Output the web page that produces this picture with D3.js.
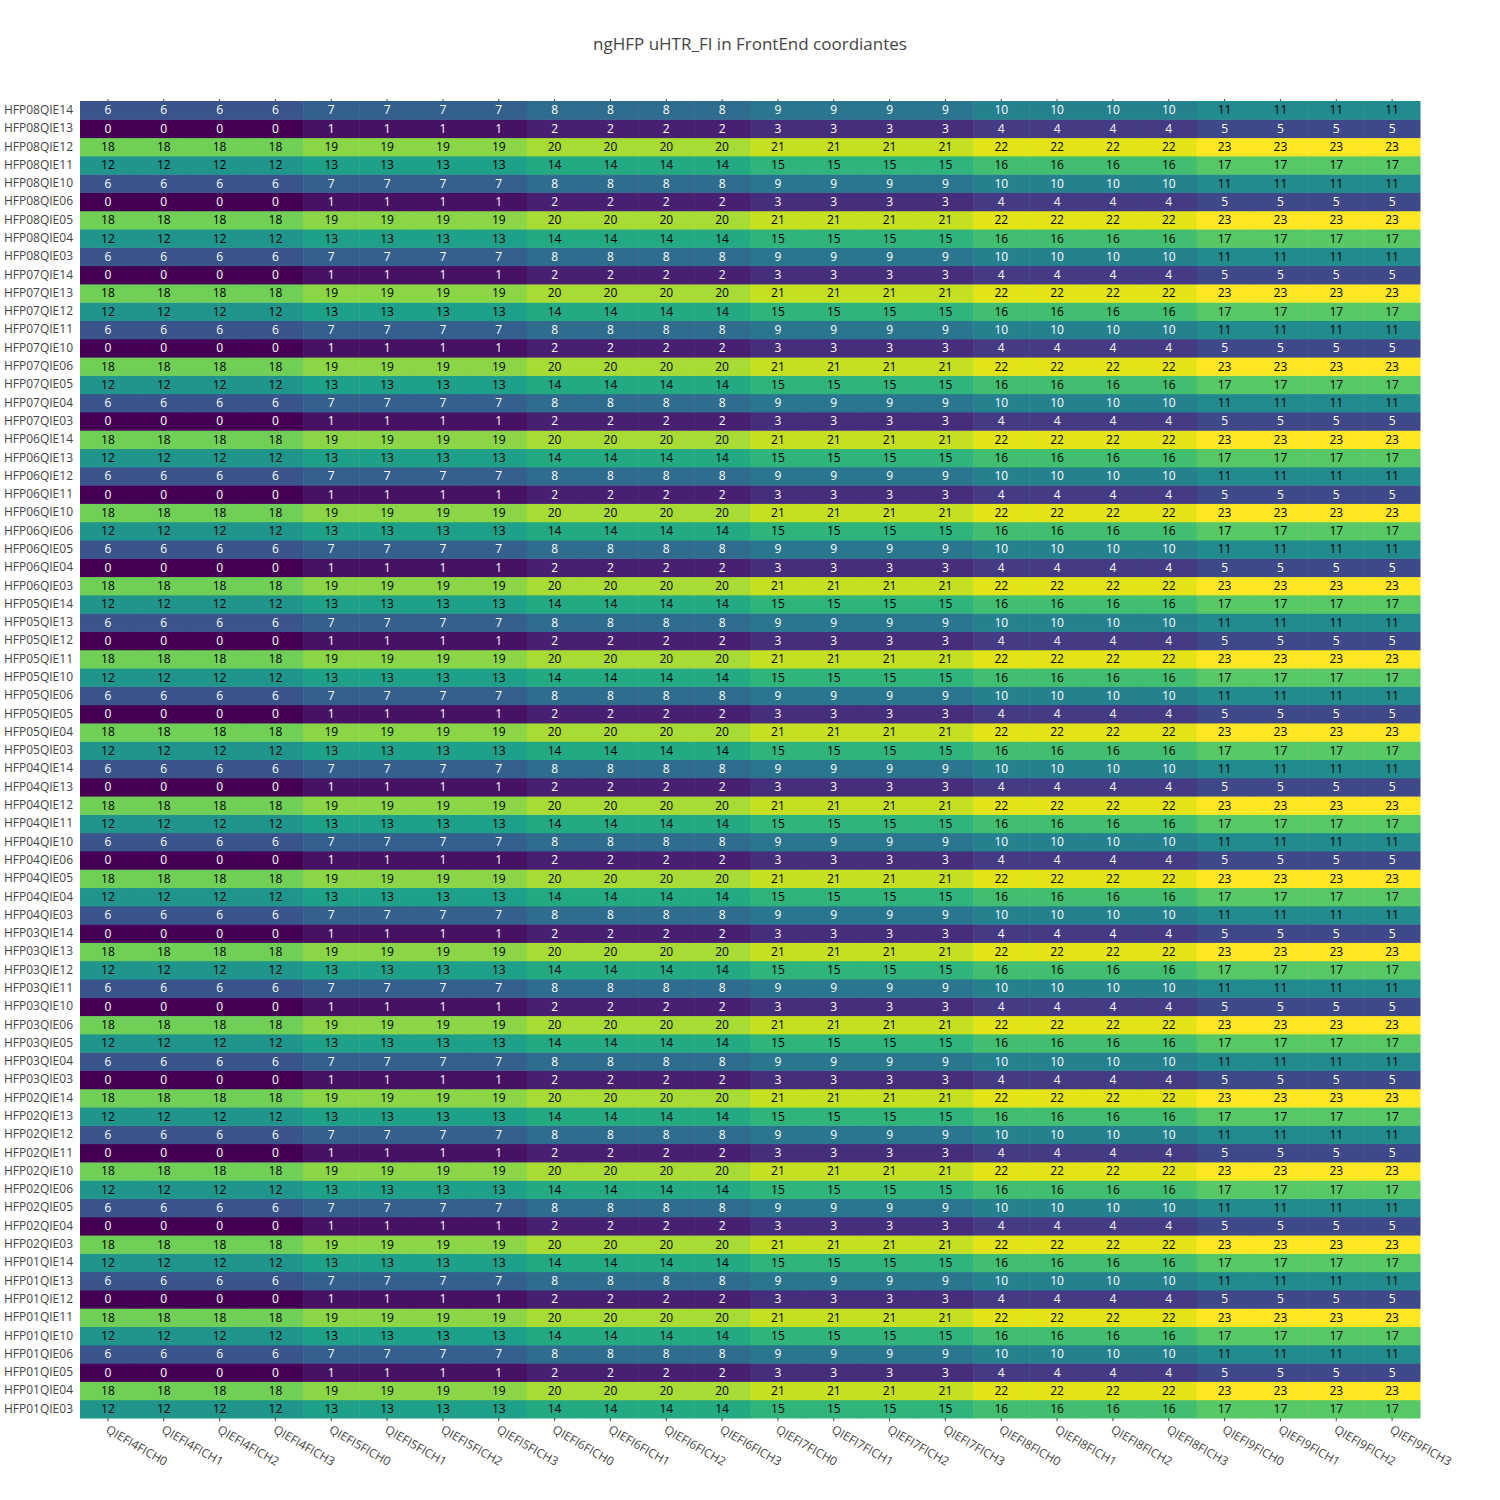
<!DOCTYPE html>
<html>
<head>
<meta charset="utf-8">
<script src="https://cdn.jsdelivr.net/npm/d3@7"></script>
<style>
  body { margin: 0; background: #fff; }
  text { font-family: "Open Sans", sans-serif; }
</style>
</head>
<body>
<div id="chart"></div>
<script>
// column labels (left to right)
var xLabels = ['QIEFI4FICH0', 'QIEFI4FICH1', 'QIEFI4FICH2', 'QIEFI4FICH3',
  'QIEFI5FICH0', 'QIEFI5FICH1', 'QIEFI5FICH2', 'QIEFI5FICH3',
  'QIEFI6FICH0', 'QIEFI6FICH1', 'QIEFI6FICH2', 'QIEFI6FICH3',
  'QIEFI7FICH0', 'QIEFI7FICH1', 'QIEFI7FICH2', 'QIEFI7FICH3',
  'QIEFI8FICH0', 'QIEFI8FICH1', 'QIEFI8FICH2', 'QIEFI8FICH3',
  'QIEFI9FICH0', 'QIEFI9FICH1', 'QIEFI9FICH2', 'QIEFI9FICH3'];

// row labels (bottom to top)
var yLabels = [
  'HFP01QIE03', 'HFP01QIE04', 'HFP01QIE05', 'HFP01QIE06', 'HFP01QIE10', 'HFP01QIE11', 'HFP01QIE12', 'HFP01QIE13', 'HFP01QIE14',
  'HFP02QIE03', 'HFP02QIE04', 'HFP02QIE05', 'HFP02QIE06', 'HFP02QIE10', 'HFP02QIE11', 'HFP02QIE12', 'HFP02QIE13', 'HFP02QIE14',
  'HFP03QIE03', 'HFP03QIE04', 'HFP03QIE05', 'HFP03QIE06', 'HFP03QIE10', 'HFP03QIE11', 'HFP03QIE12', 'HFP03QIE13', 'HFP03QIE14',
  'HFP04QIE03', 'HFP04QIE04', 'HFP04QIE05', 'HFP04QIE06', 'HFP04QIE10', 'HFP04QIE11', 'HFP04QIE12', 'HFP04QIE13', 'HFP04QIE14',
  'HFP05QIE03', 'HFP05QIE04', 'HFP05QIE05', 'HFP05QIE06', 'HFP05QIE10', 'HFP05QIE11', 'HFP05QIE12', 'HFP05QIE13', 'HFP05QIE14',
  'HFP06QIE03', 'HFP06QIE04', 'HFP06QIE05', 'HFP06QIE06', 'HFP06QIE10', 'HFP06QIE11', 'HFP06QIE12', 'HFP06QIE13', 'HFP06QIE14',
  'HFP07QIE03', 'HFP07QIE04', 'HFP07QIE05', 'HFP07QIE06', 'HFP07QIE10', 'HFP07QIE11', 'HFP07QIE12', 'HFP07QIE13', 'HFP07QIE14',
  'HFP08QIE03', 'HFP08QIE04', 'HFP08QIE05', 'HFP08QIE06', 'HFP08QIE10', 'HFP08QIE11', 'HFP08QIE12', 'HFP08QIE13', 'HFP08QIE14'];

// cell values, one row per yLabel (bottom to top)
var zValues = [
  [12,12,12,12,13,13,13,13,14,14,14,14,15,15,15,15,16,16,16,16,17,17,17,17],
  [18,18,18,18,19,19,19,19,20,20,20,20,21,21,21,21,22,22,22,22,23,23,23,23],
  [0,0,0,0,1,1,1,1,2,2,2,2,3,3,3,3,4,4,4,4,5,5,5,5],
  [6,6,6,6,7,7,7,7,8,8,8,8,9,9,9,9,10,10,10,10,11,11,11,11],
  [12,12,12,12,13,13,13,13,14,14,14,14,15,15,15,15,16,16,16,16,17,17,17,17],
  [18,18,18,18,19,19,19,19,20,20,20,20,21,21,21,21,22,22,22,22,23,23,23,23],
  [0,0,0,0,1,1,1,1,2,2,2,2,3,3,3,3,4,4,4,4,5,5,5,5],
  [6,6,6,6,7,7,7,7,8,8,8,8,9,9,9,9,10,10,10,10,11,11,11,11],
  [12,12,12,12,13,13,13,13,14,14,14,14,15,15,15,15,16,16,16,16,17,17,17,17],
  [18,18,18,18,19,19,19,19,20,20,20,20,21,21,21,21,22,22,22,22,23,23,23,23],
  [0,0,0,0,1,1,1,1,2,2,2,2,3,3,3,3,4,4,4,4,5,5,5,5],
  [6,6,6,6,7,7,7,7,8,8,8,8,9,9,9,9,10,10,10,10,11,11,11,11],
  [12,12,12,12,13,13,13,13,14,14,14,14,15,15,15,15,16,16,16,16,17,17,17,17],
  [18,18,18,18,19,19,19,19,20,20,20,20,21,21,21,21,22,22,22,22,23,23,23,23],
  [0,0,0,0,1,1,1,1,2,2,2,2,3,3,3,3,4,4,4,4,5,5,5,5],
  [6,6,6,6,7,7,7,7,8,8,8,8,9,9,9,9,10,10,10,10,11,11,11,11],
  [12,12,12,12,13,13,13,13,14,14,14,14,15,15,15,15,16,16,16,16,17,17,17,17],
  [18,18,18,18,19,19,19,19,20,20,20,20,21,21,21,21,22,22,22,22,23,23,23,23],
  [0,0,0,0,1,1,1,1,2,2,2,2,3,3,3,3,4,4,4,4,5,5,5,5],
  [6,6,6,6,7,7,7,7,8,8,8,8,9,9,9,9,10,10,10,10,11,11,11,11],
  [12,12,12,12,13,13,13,13,14,14,14,14,15,15,15,15,16,16,16,16,17,17,17,17],
  [18,18,18,18,19,19,19,19,20,20,20,20,21,21,21,21,22,22,22,22,23,23,23,23],
  [0,0,0,0,1,1,1,1,2,2,2,2,3,3,3,3,4,4,4,4,5,5,5,5],
  [6,6,6,6,7,7,7,7,8,8,8,8,9,9,9,9,10,10,10,10,11,11,11,11],
  [12,12,12,12,13,13,13,13,14,14,14,14,15,15,15,15,16,16,16,16,17,17,17,17],
  [18,18,18,18,19,19,19,19,20,20,20,20,21,21,21,21,22,22,22,22,23,23,23,23],
  [0,0,0,0,1,1,1,1,2,2,2,2,3,3,3,3,4,4,4,4,5,5,5,5],
  [6,6,6,6,7,7,7,7,8,8,8,8,9,9,9,9,10,10,10,10,11,11,11,11],
  [12,12,12,12,13,13,13,13,14,14,14,14,15,15,15,15,16,16,16,16,17,17,17,17],
  [18,18,18,18,19,19,19,19,20,20,20,20,21,21,21,21,22,22,22,22,23,23,23,23],
  [0,0,0,0,1,1,1,1,2,2,2,2,3,3,3,3,4,4,4,4,5,5,5,5],
  [6,6,6,6,7,7,7,7,8,8,8,8,9,9,9,9,10,10,10,10,11,11,11,11],
  [12,12,12,12,13,13,13,13,14,14,14,14,15,15,15,15,16,16,16,16,17,17,17,17],
  [18,18,18,18,19,19,19,19,20,20,20,20,21,21,21,21,22,22,22,22,23,23,23,23],
  [0,0,0,0,1,1,1,1,2,2,2,2,3,3,3,3,4,4,4,4,5,5,5,5],
  [6,6,6,6,7,7,7,7,8,8,8,8,9,9,9,9,10,10,10,10,11,11,11,11],
  [12,12,12,12,13,13,13,13,14,14,14,14,15,15,15,15,16,16,16,16,17,17,17,17],
  [18,18,18,18,19,19,19,19,20,20,20,20,21,21,21,21,22,22,22,22,23,23,23,23],
  [0,0,0,0,1,1,1,1,2,2,2,2,3,3,3,3,4,4,4,4,5,5,5,5],
  [6,6,6,6,7,7,7,7,8,8,8,8,9,9,9,9,10,10,10,10,11,11,11,11],
  [12,12,12,12,13,13,13,13,14,14,14,14,15,15,15,15,16,16,16,16,17,17,17,17],
  [18,18,18,18,19,19,19,19,20,20,20,20,21,21,21,21,22,22,22,22,23,23,23,23],
  [0,0,0,0,1,1,1,1,2,2,2,2,3,3,3,3,4,4,4,4,5,5,5,5],
  [6,6,6,6,7,7,7,7,8,8,8,8,9,9,9,9,10,10,10,10,11,11,11,11],
  [12,12,12,12,13,13,13,13,14,14,14,14,15,15,15,15,16,16,16,16,17,17,17,17],
  [18,18,18,18,19,19,19,19,20,20,20,20,21,21,21,21,22,22,22,22,23,23,23,23],
  [0,0,0,0,1,1,1,1,2,2,2,2,3,3,3,3,4,4,4,4,5,5,5,5],
  [6,6,6,6,7,7,7,7,8,8,8,8,9,9,9,9,10,10,10,10,11,11,11,11],
  [12,12,12,12,13,13,13,13,14,14,14,14,15,15,15,15,16,16,16,16,17,17,17,17],
  [18,18,18,18,19,19,19,19,20,20,20,20,21,21,21,21,22,22,22,22,23,23,23,23],
  [0,0,0,0,1,1,1,1,2,2,2,2,3,3,3,3,4,4,4,4,5,5,5,5],
  [6,6,6,6,7,7,7,7,8,8,8,8,9,9,9,9,10,10,10,10,11,11,11,11],
  [12,12,12,12,13,13,13,13,14,14,14,14,15,15,15,15,16,16,16,16,17,17,17,17],
  [18,18,18,18,19,19,19,19,20,20,20,20,21,21,21,21,22,22,22,22,23,23,23,23],
  [0,0,0,0,1,1,1,1,2,2,2,2,3,3,3,3,4,4,4,4,5,5,5,5],
  [6,6,6,6,7,7,7,7,8,8,8,8,9,9,9,9,10,10,10,10,11,11,11,11],
  [12,12,12,12,13,13,13,13,14,14,14,14,15,15,15,15,16,16,16,16,17,17,17,17],
  [18,18,18,18,19,19,19,19,20,20,20,20,21,21,21,21,22,22,22,22,23,23,23,23],
  [0,0,0,0,1,1,1,1,2,2,2,2,3,3,3,3,4,4,4,4,5,5,5,5],
  [6,6,6,6,7,7,7,7,8,8,8,8,9,9,9,9,10,10,10,10,11,11,11,11],
  [12,12,12,12,13,13,13,13,14,14,14,14,15,15,15,15,16,16,16,16,17,17,17,17],
  [18,18,18,18,19,19,19,19,20,20,20,20,21,21,21,21,22,22,22,22,23,23,23,23],
  [0,0,0,0,1,1,1,1,2,2,2,2,3,3,3,3,4,4,4,4,5,5,5,5],
  [6,6,6,6,7,7,7,7,8,8,8,8,9,9,9,9,10,10,10,10,11,11,11,11],
  [12,12,12,12,13,13,13,13,14,14,14,14,15,15,15,15,16,16,16,16,17,17,17,17],
  [18,18,18,18,19,19,19,19,20,20,20,20,21,21,21,21,22,22,22,22,23,23,23,23],
  [0,0,0,0,1,1,1,1,2,2,2,2,3,3,3,3,4,4,4,4,5,5,5,5],
  [6,6,6,6,7,7,7,7,8,8,8,8,9,9,9,9,10,10,10,10,11,11,11,11],
  [12,12,12,12,13,13,13,13,14,14,14,14,15,15,15,15,16,16,16,16,17,17,17,17],
  [18,18,18,18,19,19,19,19,20,20,20,20,21,21,21,21,22,22,22,22,23,23,23,23],
  [0,0,0,0,1,1,1,1,2,2,2,2,3,3,3,3,4,4,4,4,5,5,5,5],
  [6,6,6,6,7,7,7,7,8,8,8,8,9,9,9,9,10,10,10,10,11,11,11,11]
];

var titleText = 'ngHFP uHTR_FI in FrontEnd coordiantes';

var width = 1500, height = 1500;
var margin = {top: 101, right: 80, bottom: 82, left: 80};
var plotW = width - margin.left - margin.right;
var plotH = height - margin.top - margin.bottom;

var svg = d3.select("#chart").append("svg")
  .attr("width", width)
  .attr("height", height);

var x = d3.scaleBand().domain(xLabels).range([0, plotW]).padding(0);
// first yLabel sits at the bottom
var y = d3.scaleBand().domain(yLabels).range([plotH, 0]).padding(0);

var color = d3.scaleSequential(d3.interpolateViridis).domain([0, 23]);

var g = svg.append("g")
  .attr("transform", "translate(" + margin.left + "," + margin.top + ")");

// flatten into cells
var cells = [];
zValues.forEach(function (row, i) {
  row.forEach(function (v, j) {
    cells.push({row: yLabels[i], col: xLabels[j], value: v});
  });
});

g.selectAll("rect.cell")
  .data(cells)
  .enter().append("rect")
  .attr("class", "cell")
  .attr("x", function (d) { return x(d.col); })
  .attr("y", function (d) { return y(d.row); })
  .attr("width", x.bandwidth() + 0.5)
  .attr("height", y.bandwidth() + 0.5)
  .attr("fill", function (d) { return color(d.value); });

g.selectAll("text.cell-label")
  .data(cells)
  .enter().append("text")
  .attr("class", "cell-label")
  .attr("x", function (d) { return x(d.col) + x.bandwidth() / 2; })
  .attr("y", function (d) { return y(d.row) + y.bandwidth() / 2; })
  .attr("dy", "0.36em")
  .attr("text-anchor", "middle")
  .style("font-size", "12px")
  .attr("fill", function (d) { return d.value <= 10 ? "#fff" : "#000"; })
  .text(function (d) { return d.value; });

// y axis
var yAxis = g.append("g")
  .attr("class", "axis")
  .call(d3.axisLeft(y).tickSize(0).tickPadding(7));
yAxis.select(".domain").remove();
yAxis.selectAll("text")
  .style("font-size", "12px")
  .style("font-family", "'Open Sans', sans-serif")
  .attr("fill", "#444");

// x axis
var xAxis = g.append("g")
  .attr("class", "axis")
  .attr("transform", "translate(0," + plotH + ")")
  .call(d3.axisBottom(x).tickSize(3).tickPadding(0));
xAxis.select(".domain").remove();
xAxis.selectAll("line").attr("stroke", "#444");
xAxis.selectAll("text")
  .style("font-size", "12px")
  .style("font-family", "'Open Sans', sans-serif")
  .attr("fill", "#444")
  .attr("text-anchor", "start")
  .attr("y", 0)
  .attr("dy", "0")
  .attr("transform", "translate(-3,14) rotate(30)");

// small tick marks along the top edge
var topTicks = g.append("g")
  .call(d3.axisTop(x).tickSize(2).tickFormat(""));
topTicks.select(".domain").remove();
topTicks.selectAll("line").attr("stroke", "#444");

// title
svg.append("text")
  .attr("x", width / 2)
  .attr("y", 50)
  .attr("text-anchor", "middle")
  .style("font-size", "17px")
  .attr("fill", "#444")
  .text(titleText);
</script>
</body>
</html>
